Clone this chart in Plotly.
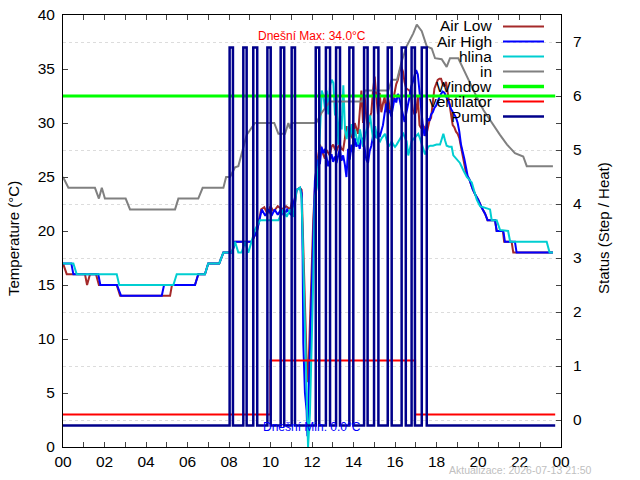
import plotly.graph_objects as go

# ---------------- data (hours of day, values) ----------------
air_low_t = [0.00,0.18,1.06,1.16,1.30,1.59,1.73,2.59,2.75,5.16,5.25,6.36,6.52,6.84,7.00,7.53,7.73,8.15,8.29,9.09,9.35,9.55,9.70,9.85,10.00,10.15,10.35,10.55,10.75,10.95,11.05,11.15,11.26,11.42,11.50,11.55,11.66,11.74,11.81,11.88,11.96,12.06,12.14,
             12.22,12.30,12.38,12.46,12.54,12.62,12.70,12.78,12.86,12.94,13.02,13.10,13.18,13.26,13.34,13.42,13.50,13.58,13.66,13.74,13.82,13.90,13.98,14.06,14.14,14.22,14.30,14.38,14.46,14.54,14.62,14.70,14.78,14.86,14.94,15.02,15.10,15.18,15.26,15.34,15.42,15.50,15.58,15.66,15.74,15.82,15.90,15.98,16.06,16.14,16.22,16.30,16.38,16.46,16.54,16.62,16.70,16.78,16.86,16.94,17.02,17.10,17.18,17.26,17.34,17.42,17.50,17.58,17.66,17.74,17.82,17.90,17.98,18.06,18.14,18.22,18.30,18.38,18.46,18.54,18.62,18.70,18.78,18.86,18.94,19.02,19.10,19.18,19.26,19.34,19.42,19.50,19.58,19.66,19.74,19.86,20.01,20.17,20.34,20.46,20.82,20.90,21.20,21.26,21.62,21.70,23.61]
air_low_v = [17,16,16,15,16,16,15,15,14,14,15,15,16,16,17,17,18,18,19,19,20,22,22.2,21.6,22.3,21.8,22.3,22.0,22.3,22.0,22.9,22.2,23.8,24,23.8,20,12,8,6,10,16,21,24,
             26.0,27.0,28.0,27.5,27.0,26.7,27.5,27.2,27.0,27.8,28.0,27.6,27.4,27.8,28.0,27.6,27.5,28.5,29.7,29.0,29.4,28.8,28.5,30.0,29.5,29.0,31.0,33.0,30.0,32.4,30.5,29.5,30.5,31.0,33.0,34.3,32.5,30.8,32.8,31.0,31.8,32.4,31.0,32.4,31.5,30.8,32.0,33.0,33.6,34.0,34.8,35.2,34.8,33.8,33.2,33.1,33.0,32.4,31.2,30.8,31.0,32.4,29.8,29.5,29.8,29.6,28.8,29.5,30.2,30.5,31.8,33.2,33.6,34.0,34.1,34.1,33.6,33.4,33.8,32.8,31.5,30.8,29.8,29.6,29.2,29.0,28.6,27.8,26.8,26.2,25.4,25.0,24.8,24.3,23.9,23.4,22.9,22.2,21.6,21.0,21.0,20.0,20.0,19.0,19.0,18.0,18.0]

air_high_t = [0.00,0.40,0.50,1.70,1.80,2.60,2.80,4.76,4.87,6.36,6.52,6.84,7.00,7.53,7.73,8.15,8.29,9.09,9.35,9.58,9.75,9.90,10.05,10.20,10.35,10.50,10.65,10.80,10.99,11.10,11.26,11.42,11.50,11.55,11.58,11.66,11.74,11.78,11.84,11.90,11.99,12.06,
              12.14,12.22,12.30,12.38,12.46,12.54,12.62,12.70,12.78,12.86,12.94,13.02,13.10,13.18,13.26,13.34,13.42,13.50,13.58,13.66,13.74,13.82,13.90,13.98,14.06,14.14,14.22,14.30,14.38,14.46,14.54,14.62,14.70,14.78,14.86,14.94,15.02,15.10,15.18,15.26,15.34,15.42,15.50,15.58,15.66,15.74,15.82,15.90,15.98,16.06,16.14,16.22,16.30,16.38,16.46,16.54,16.62,16.70,16.78,16.86,16.94,17.02,17.10,17.18,17.26,17.34,17.42,17.50,17.58,17.66,17.74,17.82,17.90,17.98,18.06,18.14,18.22,18.30,18.38,18.46,18.54,18.62,18.70,18.78,18.86,18.94,19.02,19.10,19.18,19.26,19.34,19.42,19.50,19.58,19.66,19.74,19.86,20.01,20.17,20.34,20.46,20.82,20.90,21.22,21.30,21.78,21.86,23.61]
air_high_v = [17,17,16,16,15,15,14,14,15,15,16,16,17,17,18,18,19,19,20,22,21.4,22,21.4,22,21.5,22,21.4,22,21.5,22.5,23.8,24,23.5,17.6,9.6,5.0,3.4,1.0,5.0,9.3,14.8,21.6,
              24.7,25.8,26.6,26.2,27.8,27.2,27.6,26.8,26.0,26.6,27.1,26.4,26.9,26.3,27.0,27.6,26.5,27.0,26.2,25.0,27.6,26.6,28.0,27.2,28.6,27.8,28.3,27.6,28.6,28.5,27.6,26.6,26.3,27.4,27.9,28.8,29.7,28.6,29.2,28.7,29.4,29.8,30.9,31.8,30.9,31.2,30.6,31.4,32.3,31.9,32.7,32.2,31.4,30.6,30.1,30.9,31.6,32.4,33.4,33.8,34.4,34.9,34.5,33.0,31.0,29.8,28.8,29.6,30.4,30.2,30.8,31.0,31.4,31.6,32.1,32.4,32.7,32.9,32.8,32.5,32.1,31.8,31.3,31.0,30.8,30.5,30.0,29.2,28.0,27.4,26.7,25.9,25.1,24.8,24.3,23.9,23.4,22.9,22.2,21.6,21.0,21.0,20.0,20.0,19.0,19.0,18.0,18.0]

hlina_t = [0.00,0.50,0.66,2.59,2.71,5.32,5.48,6.84,7.00,7.53,7.73,8.13,8.29,8.45,8.61,8.77,8.93,9.09,9.25,9.49,10.38,10.62,10.78,10.94,11.10,11.26,11.42,11.50,11.58,11.66,11.74,11.81,11.90,11.99,12.06,12.14,12.23,12.31,12.39,12.47,12.55,12.63,12.71,12.79,12.87,12.95,13.03,13.11,13.19,13.27,13.35,13.43,13.51,13.59,13.67,13.75,13.83,13.91,13.99,14.07,14.15,14.23,14.31,14.39,14.47,14.55,14.64,14.72,14.80,14.88,14.96,15.04,15.12,15.20,15.28,15.36,15.44,15.52,15.60,15.68,15.76,15.84,15.92,16.00,16.08,16.16,16.24,16.32,16.40,16.48,16.56,16.64,16.72,16.80,16.88,16.96,17.04,17.12,17.20,17.29,17.37,17.45,17.53,17.60,17.70,17.83,18.00,18.17,18.25,18.33,18.41,18.49,18.61,18.73,18.81,19.00,19.13,19.30,19.46,19.70,19.94,20.10,20.58,20.66,20.90,21.06,21.45,21.55,23.31,23.45,23.61]
hlina_v = [17,17,16,16,15,15,16,16,17,17,18,18,19,18,18,19,18,19,20.1,21,21,22,21.3,22,21.3,23.8,24,23,17.3,11,6.2,0.0,3.1,9.3,15.5,23.2,24,26,29.4,33,32.5,31.3,33,30.8,33.5,34.0,33.7,30.7,32.4,28,30.7,29.4,33.5,29.4,28.5,29.7,28.7,29.9,28.5,29.4,28.6,28,29.4,28.7,27.8,28.7,29.4,30.0,30.7,29.4,28.3,29.7,28.7,28.5,28.3,28.6,28.8,29.0,28.4,27.8,28.0,28.3,28.0,27.8,28.0,28.3,28.6,28.8,29.0,28.7,28.3,27.0,27.6,28.3,28.5,28.7,28.9,29.0,28.6,28.1,27.6,27.1,27.4,27.8,27.9,27.9,28.0,28.0,28.5,29.0,28.4,27.9,27.8,27.8,27.0,26.6,26.3,25.6,25.0,24.5,22.9,22.3,22.0,21.0,21.0,20.1,20.0,19.0,19.0,18.0,18.0]

in_t = [0.00,0.26,1.54,1.73,1.87,2.02,3.02,3.23,5.40,5.56,6.52,6.73,7.73,7.86,8.05,8.29,8.45,8.69,8.85,9.25,10.18,10.38,10.70,10.86,10.94,11.02,12.20,12.45,12.69,12.87,14.41,14.55,15.68,15.84,16.10,16.32,16.56,16.88,17.05,17.29,17.53,17.77,17.93,18.25,18.49,18.65,19.05,19.46,19.94,20.26,20.60,20.90,21.06,21.40,21.78,22.18,22.35,23.61]
in_v = [25,24,24,23,24,23,23,22,22,23,23,24,24,25,25,25.9,26,27.8,28.9,30,30,29,29,30,29.5,30,30,30.9,31.5,32,32,33,33,34,34,35.7,37.1,38.3,39.1,38.5,37.1,36.9,36.0,35.9,35.2,36.0,36.0,34.3,32.4,31.2,30.2,29.4,28.9,28.0,27.2,26.9,26.0,26.0]

window_t = [0.00, 23.72]
window_v = [6, 6]

vent_t = [0.00, 10.00, 16.97, 23.72]
vent_v = [0.1, 1.1, 0.1, 0.1]

pump_on = [8.03, 8.69, 9.17, 9.85, 10.49, 11.02, 12.18, 12.67, 13.16, 13.80, 14.51, 14.99, 15.65, 16.32, 16.80, 17.29]
pump_off = [8.19, 8.85, 9.36, 10.01, 10.66, 11.18, 12.35, 12.87, 13.35, 13.99, 14.68, 15.20, 15.84, 16.52, 16.96, 17.53]
pump_low, pump_high = -0.1, 6.9
pump_end = 23.72

x_ticks = list(range(0, 25))
x_labels = ["%02d" % (h % 24) if h % 2 == 0 else "" for h in x_ticks]
y_ticks = list(range(0, 41, 5))
y2_ticks = list(range(0, 8))

max_text = "Dnešní Max: 34.0°C"
min_text = "Dnešní Min: 0.0°C"
stamp_text = "Aktualizace: 2026-07-13 21:50"

# ---------------- build ----------------
pump_t = [0.0]
pump_v = [pump_low]
for a, b in zip(pump_on, pump_off):
    pump_t += [a, b]
    pump_v += [pump_high, pump_low]
pump_t.append(pump_end)
pump_v.append(pump_low)

FONT = "Liberation Sans, Arial, sans-serif"
series = [
    ("Air Low", air_low_t, air_low_v, "#A52A2A", 2, "y", "linear"),
    ("Air High", air_high_t, air_high_v, "#0000FF", 2, "y", "linear"),
    ("hlina", hlina_t, hlina_v, "#00CED1", 2, "y", "linear"),
    ("in", in_t, in_v, "#808080", 2, "y", "linear"),
    ("Window", window_t, window_v, "#00FF00", 3, "y2", "linear"),
    ("ventilator", vent_t, vent_v, "#FF0000", 2, "y2", "hv"),
    ("Pump", pump_t, pump_v, "#00008B", 2.5, "y2", "hv"),
]

fig = go.Figure()
for name, t, v, col, w, ax, shape in series:
    fig.add_trace(go.Scatter(x=t, y=v, mode="lines", name=name, yaxis=ax,
                             line=dict(color=col, width=w, shape=shape),
                             showlegend=False, hoverinfo="skip"))

L, R, T, B = 63, 79, 15, 33
W, H = 640, 480
pw, ph = W - L - R, H - T - B

def px(x):
    return (x - L) / pw

def py(y):
    return (H - B - y) / ph

annotations = []
shapes = []
# custom gnuplot-style legend (text right, sample on the right)
for i, (name, t, v, col, w, ax, shape) in enumerate(series):
    yy = 26.5 + 15 * i
    annotations.append(dict(text=name, xref="paper", yref="paper", x=px(494), y=py(yy - 0.5),
                            xanchor="right", yanchor="middle", showarrow=False,
                            font=dict(family=FONT, size=15.5, color="black")))
    shapes.append(dict(type="line", xref="paper", yref="paper", x0=px(503), x1=px(544),
                       y0=py(yy), y1=py(yy), line=dict(color=col, width=w + (0.5 if name == "Window" else 0))))

annotations += [
    dict(text=max_text, xref="x", yref="y", x=12.0, y=38.1, showarrow=False,
         font=dict(family=FONT, size=12, color="#FF0000")),
    dict(text=min_text, xref="x", yref="y", x=12.0, y=1.85, showarrow=False,
         font=dict(family=FONT, size=12, color="#0000FF")),
    dict(text=stamp_text, xref="paper", yref="paper", x=px(446.5), y=py(470), xanchor="left",
         yanchor="middle", showarrow=False, font=dict(family=FONT, size=10.5, color="#C0C0C0")),
    dict(text="Temperature (°C)", xref="paper", yref="paper", x=px(13), y=py(239), textangle=-90,
         xanchor="center", yanchor="middle", showarrow=False, font=dict(family=FONT, size=15, color="black")),
    dict(text="Status (Step / Heat)", xref="paper", yref="paper", x=px(603), y=py(228), textangle=-90,
         xanchor="center", yanchor="middle", showarrow=False, font=dict(family=FONT, size=15, color="black")),
]

fig.update_layout(
    width=W, height=H, margin=dict(l=L, r=R, t=T, b=B, autoexpand=False),
    paper_bgcolor="white", plot_bgcolor="white",
    font=dict(family=FONT, size=15.5, color="black"),
    showlegend=False,
    xaxis=dict(range=[0, 24], tickvals=x_ticks, ticktext=x_labels, ticks="inside", ticklen=5,
               showline=True, linecolor="black", linewidth=1, mirror="ticks", showgrid=False,
               zeroline=False, tickfont=dict(size=15.5), ticklabelstandoff=0, automargin=False),
    yaxis=dict(range=[0, 40], tickvals=y_ticks, ticks="inside", ticklen=5, showline=True,
               linecolor="black", linewidth=1, mirror="ticks", showgrid=False, zeroline=False,
               tickfont=dict(size=15.5), ticklabelstandoff=4, automargin=False),
    yaxis2=dict(range=[-0.5, 7.5], tickvals=y2_ticks, overlaying="y", side="right",
                ticks="inside", ticklen=5, showline=False, showgrid=True, gridcolor="#DCDCDC",
                griddash="3px,3px", gridwidth=1, zeroline=False, tickfont=dict(size=15.5),
                ticklabelstandoff=11, automargin=False),
    annotations=annotations, shapes=shapes,
)

fig.write_html("out.html")
